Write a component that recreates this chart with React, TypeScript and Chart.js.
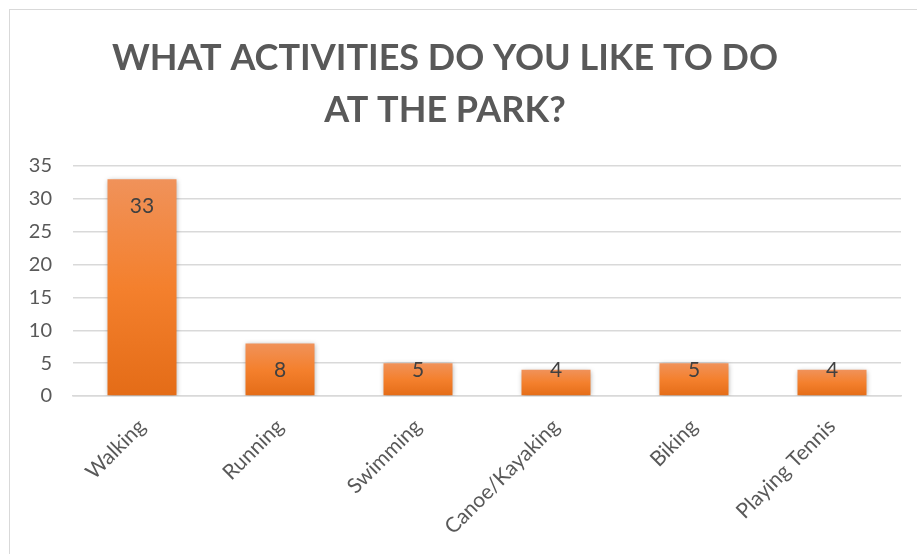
import React, { useEffect, useRef } from "react";
import { Chart, registerables } from "chart.js";

Chart.register(...registerables);

const categories = ["Walking", "Running", "Swimming", "Canoe/Kayaking", "Biking", "Playing Tennis"];
const counts = [33, 8, 5, 4, 5, 4];
const titleLines = ["WHAT ACTIVITIES DO YOU LIKE TO DO", "AT THE PARK?"];
const yMin = 0;
const yMax = 35;
const yStep = 5;

const FONT = "Lato, 'Open Sans', sans-serif";

const barDecor = {
  id: "barDecor",
  beforeDatasetsDraw(chart: any) {
    const ctx = chart.ctx;
    ctx.save();
    ctx.shadowColor = "rgba(0,0,0,0.35)";
    ctx.shadowBlur = 5;
    ctx.shadowOffsetX = 0;
    ctx.shadowOffsetY = 1;
  },
  afterDatasetsDraw(chart: any) {
    const ctx = chart.ctx;
    ctx.restore();
    const meta = chart.getDatasetMeta(0);
    const data = chart.data.datasets[0].data as number[];
    ctx.save();
    ctx.fillStyle = "#404040";
    ctx.font = `21px ${FONT}`;
    ctx.textAlign = "center";
    ctx.textBaseline = "middle";
    meta.data.forEach((bar: any, i: number) => {
      const y = Math.min(bar.y + 27, bar.base - 25);
      ctx.fillText(String(data[i]), bar.x, y);
    });
    ctx.restore();
  },
};

export default function App() {
  const ref = useRef<HTMLCanvasElement | null>(null);

  useEffect(() => {
    if (!ref.current) return;
    const chart = new Chart(ref.current, {
      type: "bar",
      data: {
        labels: categories,
        datasets: [
          {
            data: counts,
            barPercentage: 0.5,
            categoryPercentage: 1,
            backgroundColor: (c: any) => {
              const ch = c.chart;
              const ys = ch.scales && ch.scales.y;
              if (!ch.chartArea || !ys) return "#F47F2C";
              const top = ys.getPixelForValue(c.raw as number);
              const bottom = ys.getPixelForValue(0);
              const g = ch.ctx.createLinearGradient(0, top, 0, bottom);
              g.addColorStop(0, "#F0925A");
              g.addColorStop(0.5, "#F4802D");
              g.addColorStop(1, "#E46C17");
              return g;
            },
            borderWidth: 0,
          },
        ],
      },
      options: {
        animation: false,
        responsive: false,
        maintainAspectRatio: false,
        layout: { padding: { left: 0, right: 16, top: 0, bottom: 0 } },
        plugins: {
          legend: { display: false },
          tooltip: { enabled: false },
          title: {
            display: true,
            text: titleLines,
            color: "#595959",
            font: { family: FONT, size: 36, weight: "bold", lineHeight: 52 / 36 },
            padding: { top: 32, bottom: 30 },
          },
        },
        scales: {
          x: {
            grid: { display: false },
            border: { display: true, color: "#d9d9d9", width: 1.5 },
            ticks: {
              color: "#595959",
              font: { family: FONT, size: 21 },
              minRotation: 45,
              maxRotation: 45,
              padding: 10,
            },
            afterFit: (s: any) => {
              s.height = 158;
            },
          },
          y: {
            min: yMin,
            max: yMax,
            ticks: {
              stepSize: yStep,
              color: "#595959",
              font: { family: FONT, size: 20 },
              padding: 21,
            },
            grid: { color: "#d9d9d9", lineWidth: 1.5, drawTicks: false },
            border: { display: false },
            afterFit: (s: any) => {
              s.width = 84;
            },
          },
        },
      },
      plugins: [barDecor],
    });
    return () => chart.destroy();
  }, []);

  return (
    <div style={{ position: "fixed", left: 0, top: 0, width: 917, height: 554, overflow: "hidden", background: "#fff" }}>
      <div
        style={{
          position: "absolute",
          left: 9,
          top: 9,
          width: 1000,
          height: 700,
          border: "1.5px solid #d9d9d9",
        }}
      />
      <canvas ref={ref} width={928} height={554} style={{ position: "absolute", left: -11, top: 0, width: 928, height: 554 }} />
    </div>
  );
}
